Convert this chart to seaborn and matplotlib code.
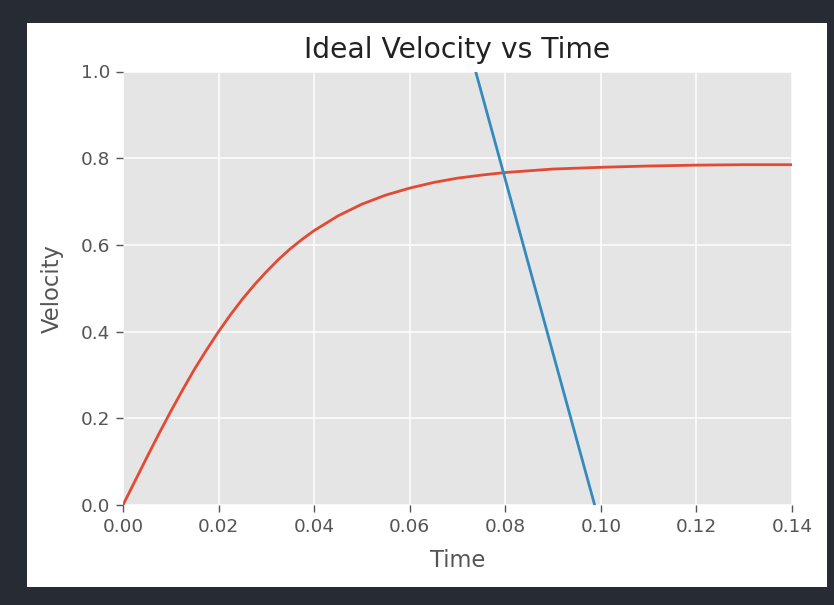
import matplotlib
matplotlib.use("Agg")
import matplotlib.pyplot as plt
from matplotlib.patches import Rectangle
import seaborn as sns
import pandas as pd

# Values
time_s = [0.0, 0.0025, 0.005, 0.0075, 0.01, 0.0125, 0.015, 0.0175, 0.02,
          0.0225, 0.025, 0.0275, 0.03, 0.0325, 0.035, 0.0375, 0.04, 0.045,
          0.05, 0.055, 0.06, 0.065, 0.07, 0.075, 0.08, 0.085, 0.09, 0.10,
          0.11, 0.12, 0.13, 0.14]
velocity = [0.0, 0.055, 0.110, 0.164, 0.216, 0.266, 0.314, 0.358, 0.400,
            0.439, 0.475, 0.508, 0.538, 0.566, 0.591, 0.613, 0.633, 0.667,
            0.694, 0.715, 0.731, 0.744, 0.754, 0.761, 0.767, 0.771, 0.775, 0.779,
            0.782, 0.784, 0.785, 0.785]
line_time = [0.0738, 0.0987]
line_velocity = [1.0, 0.0]

x_ticks = [0.00, 0.02, 0.04, 0.06, 0.08, 0.10, 0.12, 0.14]
y_ticks = [0.0, 0.2, 0.4, 0.6, 0.8, 1.0]

sns.set_style("darkgrid", {"axes.facecolor": "#E5E5E5", "grid.color": "white"})
plt.rcParams["font.family"] = ["DejaVu Sans"]

W, H = 834, 605
fig = plt.figure(figsize=(W / 100, H / 100), dpi=100, facecolor="#272b33")
fig.add_artist(Rectangle((27 / W, 18 / H), 800 / W, 564 / H,
                         transform=fig.transFigure, facecolor="white",
                         edgecolor="none", zorder=-1))
ax = fig.add_axes([123 / W, 100 / H, 669 / W, 433.5 / H])

curve = pd.DataFrame({"Time": time_s, "Velocity": velocity})
line = pd.DataFrame({"Time": line_time, "Velocity": line_velocity})
sns.lineplot(data=curve, x="Time", y="Velocity", ax=ax, color="#E24A33", lw=2.0)
sns.lineplot(data=line, x="Time", y="Velocity", ax=ax, color="#348ABD", lw=2.0)

ax.set_xlim(0, 0.14)
ax.set_ylim(0, 1.0)
ax.set_xticks(x_ticks)
ax.set_xticklabels([f"{t:.2f}" for t in x_ticks])
ax.set_yticks(y_ticks)
ax.set_yticklabels([f"{t:.1f}" for t in y_ticks])
ax.grid(True, color="white", lw=1.1)
for s in ax.spines.values():
    s.set_visible(False)
ax.tick_params(bottom=True, left=True, direction="out", length=5, width=1,
               color="#555555", labelcolor="#555555", labelsize=13.3, pad=4)
ax.set_xlabel("Time", fontsize=16.3, color="#555555", labelpad=10)
ax.set_ylabel("Velocity", fontsize=16.3, color="#555555", labelpad=12.5)
ax.set_title("Ideal Velocity vs Time", fontsize=20.3, color="#222222", pad=9.5)

fig.savefig("out.png", dpi=100, facecolor=fig.get_facecolor())
